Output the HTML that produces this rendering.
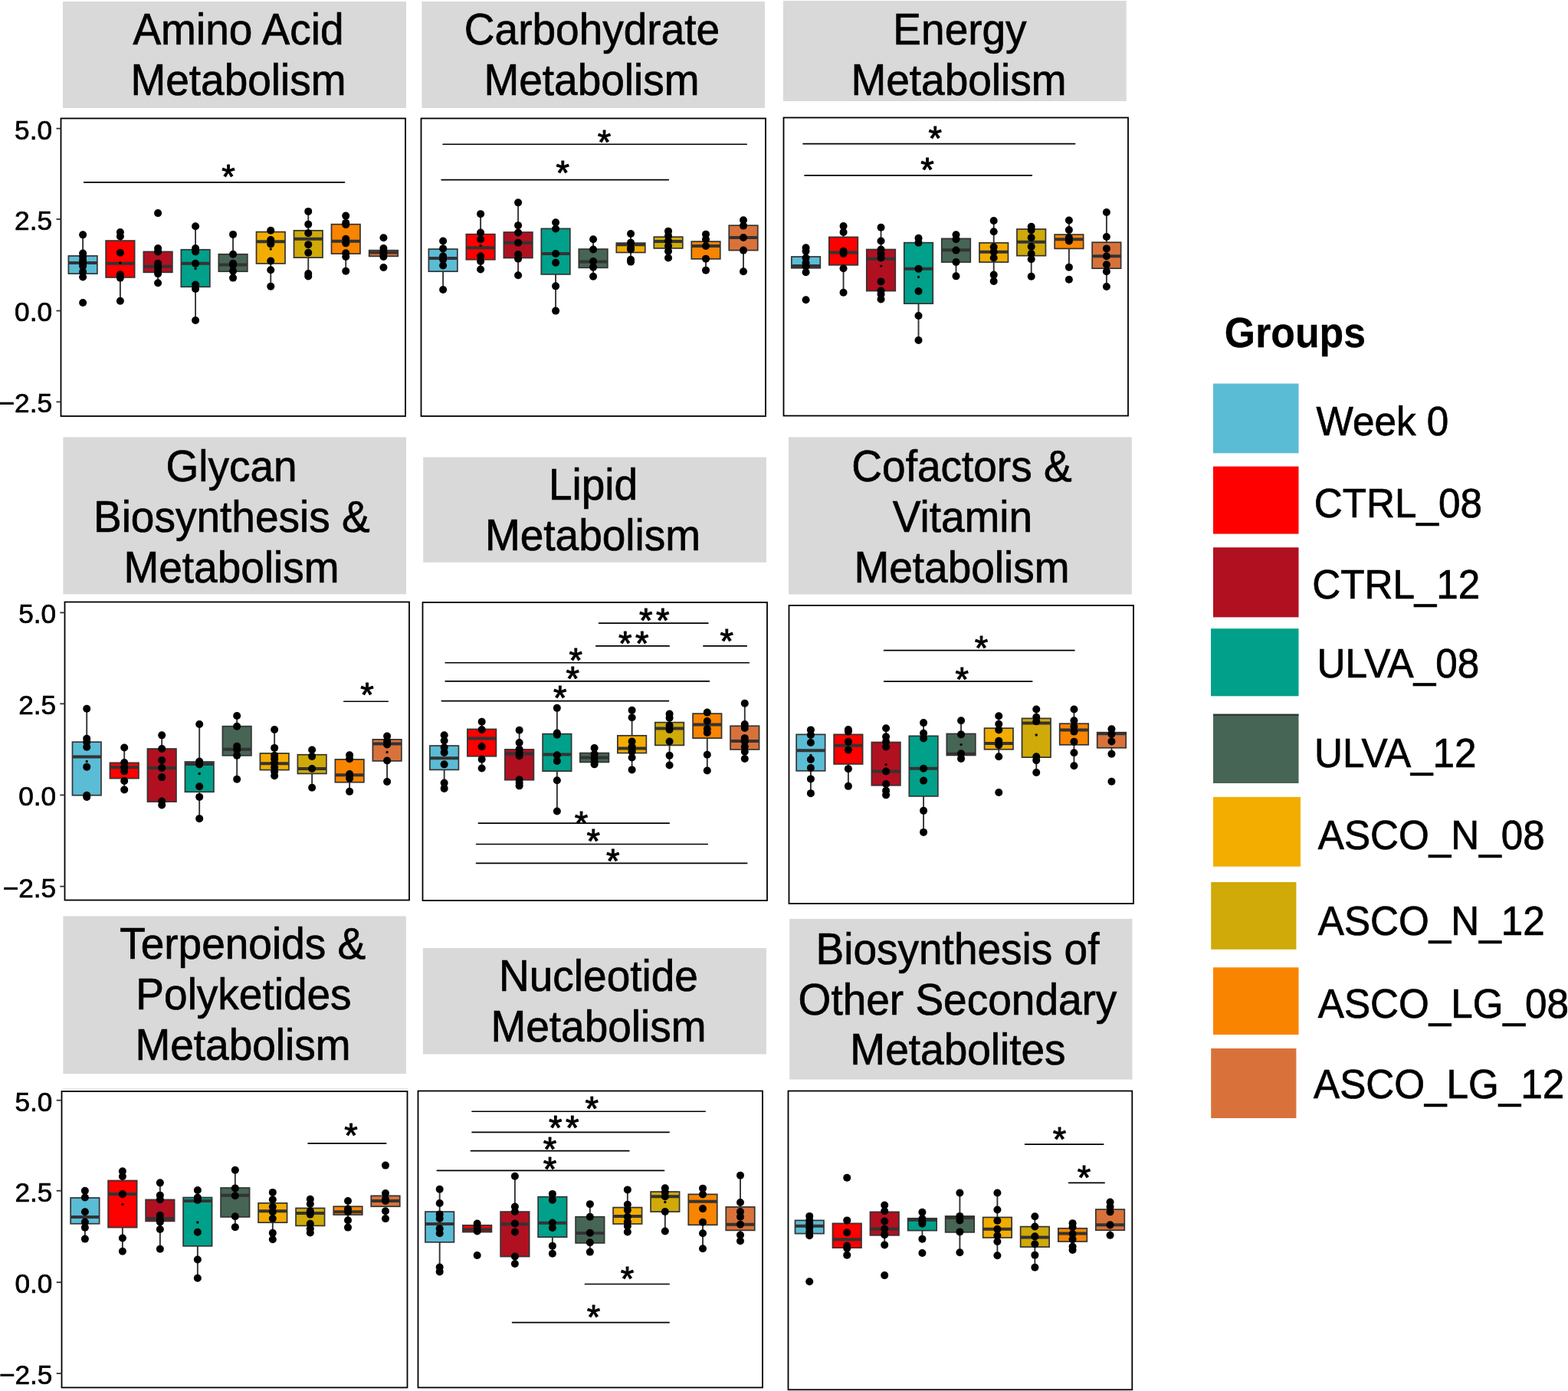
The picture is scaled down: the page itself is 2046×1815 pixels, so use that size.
<!DOCTYPE html>
<html><head><meta charset="utf-8"><title>Metabolic pathways boxplots</title>
<style>
html,body{margin:0;padding:0;background:#fff;}
body{width:2046px;height:1815px;overflow:hidden;}
svg{display:block;}
.t{font-family:'Liberation Sans', Arial, Helvetica, sans-serif;fill:#000;stroke:#000;stroke-width:0.7px;}
.tb{stroke-width:0.3px;}
.star{stroke-width:1.0px;stroke-linejoin:round;}
</style></head>
<body>
<svg width="2046" height="1815" viewBox="0 0 2046 1815">
<rect x="0" y="0" width="2046" height="1815" fill="#ffffff"/>
<rect x="82" y="2" width="448" height="139" fill="#D9D9D9"/>
<text x="311" y="0" transform="translate(0 58) scale(1 1.044)" text-anchor="middle" font-size="55.0" class="t">Amino Acid</text>
<text x="311" y="0" transform="translate(0 123.6) scale(1 1.044)" text-anchor="middle" font-size="55.0" class="t">Metabolism</text>
<line x1="109.67" y1="237.87" x2="449.49" y2="237.87" stroke="#000" stroke-width="1.7" stroke-linecap="round"/>
<text x="298.12" y="246.04" text-anchor="middle" font-size="45.0" class="t star">*</text>
<line x1="108.13" y1="306.34" x2="108.13" y2="333.92" stroke="#333" stroke-width="1.9"/>
<line x1="108.13" y1="357.09" x2="108.13" y2="361.5" stroke="#333" stroke-width="1.9"/>
<rect x="89.38" y="333.92" width="37.5" height="23.17" fill="#5BBCD6" stroke="#333" stroke-width="1.7"/>
<line x1="89.38" y1="342.97" x2="126.88" y2="342.97" stroke="#333" stroke-width="4"/>
<circle cx="108.13" cy="306.34" r="5.0"/>
<circle cx="108.13" cy="330.61" r="5.0"/>
<circle cx="108.13" cy="335.02" r="5.0"/>
<circle cx="108.13" cy="339.44" r="5.0"/>
<circle cx="108.13" cy="343.85" r="5.0"/>
<circle cx="108.13" cy="347.16" r="5.0"/>
<circle cx="108.13" cy="354.88" r="5.0"/>
<circle cx="108.13" cy="361.5" r="5.0"/>
<circle cx="108.13" cy="395.04" r="5.0"/>
<line x1="156.89" y1="303.03" x2="156.89" y2="314.06" stroke="#333" stroke-width="1.9"/>
<line x1="156.89" y1="361.94" x2="156.89" y2="392.83" stroke="#333" stroke-width="1.9"/>
<rect x="138.14" y="314.06" width="37.5" height="47.88" fill="#FF0000" stroke="#333" stroke-width="1.7"/>
<line x1="138.14" y1="343.85" x2="175.64" y2="343.85" stroke="#333" stroke-width="4"/>
<circle cx="156.89" cy="303.03" r="5.0"/>
<circle cx="156.89" cy="308.54" r="5.0"/>
<circle cx="156.89" cy="329.73" r="5.0"/>
<circle cx="156.89" cy="358.19" r="5.0"/>
<circle cx="156.89" cy="362.6" r="5.0"/>
<circle cx="156.89" cy="392.83" r="5.0"/>
<circle cx="156.89" cy="342.97" r="1.7"/>
<line x1="206.1" y1="324.43" x2="206.1" y2="328.4" stroke="#333" stroke-width="1.9"/>
<line x1="206.1" y1="355.32" x2="206.1" y2="369.22" stroke="#333" stroke-width="1.9"/>
<rect x="187.35" y="328.4" width="37.5" height="26.92" fill="#B11020" stroke="#333" stroke-width="1.7"/>
<line x1="187.35" y1="347.82" x2="224.85" y2="347.82" stroke="#333" stroke-width="4"/>
<circle cx="206.1" cy="278.09" r="5.0"/>
<circle cx="206.1" cy="323.99" r="5.0"/>
<circle cx="206.1" cy="328.4" r="5.0"/>
<circle cx="206.1" cy="343.85" r="5.0"/>
<circle cx="206.1" cy="348.26" r="5.0"/>
<circle cx="206.1" cy="352.67" r="5.0"/>
<circle cx="206.1" cy="357.09" r="5.0"/>
<circle cx="206.1" cy="369.22" r="5.0"/>
<line x1="255.08" y1="295.3" x2="255.08" y2="325.75" stroke="#333" stroke-width="1.9"/>
<line x1="255.08" y1="374.3" x2="255.08" y2="417.99" stroke="#333" stroke-width="1.9"/>
<rect x="236.33" y="325.75" width="37.5" height="48.54" fill="#00A08A" stroke="#333" stroke-width="1.7"/>
<line x1="236.33" y1="343.85" x2="273.83" y2="343.85" stroke="#333" stroke-width="4"/>
<circle cx="255.08" cy="295.3" r="5.0"/>
<circle cx="255.08" cy="323.99" r="5.0"/>
<circle cx="255.08" cy="328.4" r="5.0"/>
<circle cx="255.08" cy="343.85" r="5.0"/>
<circle cx="255.08" cy="371.43" r="5.0"/>
<circle cx="255.08" cy="376.95" r="5.0"/>
<circle cx="255.08" cy="417.99" r="5.0"/>
<circle cx="255.08" cy="350.47" r="1.7"/>
<line x1="304.07" y1="305.9" x2="304.07" y2="331.71" stroke="#333" stroke-width="1.9"/>
<line x1="304.07" y1="354.22" x2="304.07" y2="362.6" stroke="#333" stroke-width="1.9"/>
<rect x="285.32" y="331.71" width="37.5" height="22.51" fill="#466555" stroke="#333" stroke-width="1.7"/>
<line x1="285.32" y1="345.39" x2="322.82" y2="345.39" stroke="#333" stroke-width="4"/>
<circle cx="304.07" cy="305.9" r="5.0"/>
<circle cx="304.07" cy="331.71" r="5.0"/>
<circle cx="304.07" cy="343.85" r="5.0"/>
<circle cx="304.07" cy="346.05" r="5.0"/>
<circle cx="304.07" cy="353.78" r="5.0"/>
<circle cx="304.07" cy="362.6" r="5.0"/>
<line x1="353.27" y1="300.82" x2="353.27" y2="302.59" stroke="#333" stroke-width="1.9"/>
<line x1="353.27" y1="343.85" x2="353.27" y2="373.64" stroke="#333" stroke-width="1.9"/>
<rect x="334.52" y="302.59" width="37.5" height="41.26" fill="#F2AD00" stroke="#333" stroke-width="1.7"/>
<line x1="334.52" y1="315.16" x2="372.02" y2="315.16" stroke="#333" stroke-width="4"/>
<circle cx="353.27" cy="300.82" r="5.0"/>
<circle cx="353.27" cy="312.96" r="5.0"/>
<circle cx="353.27" cy="318.47" r="5.0"/>
<circle cx="353.27" cy="340.54" r="5.0"/>
<circle cx="353.27" cy="352.23" r="5.0"/>
<circle cx="353.27" cy="373.64" r="5.0"/>
<circle cx="353.27" cy="325.09" r="1.7"/>
<line x1="402.26" y1="275.89" x2="402.26" y2="300.82" stroke="#333" stroke-width="1.9"/>
<line x1="402.26" y1="336.13" x2="402.26" y2="360.4" stroke="#333" stroke-width="1.9"/>
<rect x="383.51" y="300.82" width="37.5" height="35.3" fill="#CFAA08" stroke="#333" stroke-width="1.7"/>
<line x1="383.51" y1="311.85" x2="421.01" y2="311.85" stroke="#333" stroke-width="4"/>
<circle cx="402.26" cy="275.89" r="5.0"/>
<circle cx="402.26" cy="292.66" r="5.0"/>
<circle cx="402.26" cy="304.13" r="5.0"/>
<circle cx="402.26" cy="319.14" r="5.0"/>
<circle cx="402.26" cy="329.73" r="5.0"/>
<circle cx="402.26" cy="357.09" r="5.0"/>
<circle cx="402.26" cy="360.4" r="5.0"/>
<line x1="451.24" y1="281.62" x2="451.24" y2="292.66" stroke="#333" stroke-width="1.9"/>
<line x1="451.24" y1="331.05" x2="451.24" y2="353.78" stroke="#333" stroke-width="1.9"/>
<rect x="432.49" y="292.66" width="37.5" height="38.39" fill="#F98400" stroke="#333" stroke-width="1.7"/>
<line x1="432.49" y1="314.72" x2="469.99" y2="314.72" stroke="#333" stroke-width="4"/>
<circle cx="451.24" cy="281.62" r="5.0"/>
<circle cx="451.24" cy="290.89" r="5.0"/>
<circle cx="451.24" cy="293.1" r="5.0"/>
<circle cx="451.24" cy="311.85" r="5.0"/>
<circle cx="451.24" cy="317.37" r="5.0"/>
<circle cx="451.24" cy="330.17" r="5.0"/>
<circle cx="451.24" cy="335.02" r="5.0"/>
<circle cx="451.24" cy="353.78" r="5.0"/>
<rect x="481.7" y="326.64" width="37.5" height="7.72" fill="#D8723A" stroke="#333" stroke-width="1.7"/>
<line x1="481.7" y1="329.51" x2="519.2" y2="329.51" stroke="#333" stroke-width="4"/>
<circle cx="500.45" cy="310.31" r="5.0"/>
<circle cx="500.45" cy="323.99" r="5.0"/>
<circle cx="500.45" cy="328.4" r="5.0"/>
<circle cx="500.45" cy="331.71" r="5.0"/>
<circle cx="500.45" cy="335.02" r="5.0"/>
<circle cx="500.45" cy="348.92" r="5.0"/>
<rect x="79.5" y="154.5" width="449.5" height="388.5" fill="none" stroke="#000" stroke-width="1.8"/>
<rect x="550.4" y="2" width="447.6" height="139" fill="#D9D9D9"/>
<text x="772.5" y="0" transform="translate(0 58) scale(1 1.044)" text-anchor="middle" font-size="55.0" class="t">Carbohydrate</text>
<text x="772" y="0" transform="translate(0 123.5) scale(1 1.044)" text-anchor="middle" font-size="55.0" class="t">Metabolism</text>
<line x1="578.13" y1="188.24" x2="974.2" y2="188.24" stroke="#000" stroke-width="1.7" stroke-linecap="round"/>
<text x="788.41" y="200.82" text-anchor="middle" font-size="45.0" class="t star">*</text>
<line x1="576.14" y1="234.58" x2="872.26" y2="234.58" stroke="#000" stroke-width="1.7" stroke-linecap="round"/>
<text x="734.35" y="241.2" text-anchor="middle" font-size="45.0" class="t star">*</text>
<line x1="578.13" y1="314.46" x2="578.13" y2="325.05" stroke="#333" stroke-width="1.9"/>
<line x1="578.13" y1="354.17" x2="578.13" y2="378.01" stroke="#333" stroke-width="1.9"/>
<rect x="559.38" y="325.05" width="37.5" height="29.13" fill="#5BBCD6" stroke="#333" stroke-width="1.7"/>
<line x1="559.38" y1="336.96" x2="596.88" y2="336.96" stroke="#333" stroke-width="4"/>
<circle cx="578.13" cy="314.46" r="5.0"/>
<circle cx="578.13" cy="324.39" r="5.0"/>
<circle cx="578.13" cy="334.32" r="5.0"/>
<circle cx="578.13" cy="338.73" r="5.0"/>
<circle cx="578.13" cy="346.45" r="5.0"/>
<circle cx="578.13" cy="378.01" r="5.0"/>
<line x1="627.11" y1="279.15" x2="627.11" y2="305.63" stroke="#333" stroke-width="1.9"/>
<line x1="627.11" y1="338.73" x2="627.11" y2="351.53" stroke="#333" stroke-width="1.9"/>
<rect x="608.36" y="305.63" width="37.5" height="33.1" fill="#FF0000" stroke="#333" stroke-width="1.7"/>
<line x1="608.36" y1="323.28" x2="645.86" y2="323.28" stroke="#333" stroke-width="4"/>
<circle cx="627.11" cy="279.15" r="5.0"/>
<circle cx="627.11" cy="303.42" r="5.0"/>
<circle cx="627.11" cy="312.25" r="5.0"/>
<circle cx="627.11" cy="334.32" r="5.0"/>
<circle cx="627.11" cy="340.94" r="5.0"/>
<circle cx="627.11" cy="351.53" r="5.0"/>
<circle cx="627.11" cy="320.41" r="1.7"/>
<line x1="676.1" y1="264.37" x2="676.1" y2="302.98" stroke="#333" stroke-width="1.9"/>
<line x1="676.1" y1="336.52" x2="676.1" y2="359.25" stroke="#333" stroke-width="1.9"/>
<rect x="657.35" y="302.98" width="37.5" height="33.54" fill="#B11020" stroke="#333" stroke-width="1.7"/>
<line x1="657.35" y1="316.66" x2="694.85" y2="316.66" stroke="#333" stroke-width="4"/>
<circle cx="676.1" cy="264.37" r="5.0"/>
<circle cx="676.1" cy="294.16" r="5.0"/>
<circle cx="676.1" cy="303.42" r="5.0"/>
<circle cx="676.1" cy="316.66" r="5.0"/>
<circle cx="676.1" cy="332.11" r="5.0"/>
<circle cx="676.1" cy="337.63" r="5.0"/>
<circle cx="676.1" cy="359.25" r="5.0"/>
<line x1="725.08" y1="290.19" x2="725.08" y2="298.35" stroke="#333" stroke-width="1.9"/>
<line x1="725.08" y1="357.93" x2="725.08" y2="405.59" stroke="#333" stroke-width="1.9"/>
<rect x="706.33" y="298.35" width="37.5" height="59.58" fill="#00A08A" stroke="#333" stroke-width="1.7"/>
<line x1="706.33" y1="331.01" x2="743.83" y2="331.01" stroke="#333" stroke-width="4"/>
<circle cx="725.08" cy="290.19" r="5.0"/>
<circle cx="725.08" cy="298.57" r="5.0"/>
<circle cx="725.08" cy="331.01" r="5.0"/>
<circle cx="725.08" cy="342.7" r="5.0"/>
<circle cx="725.08" cy="373.37" r="5.0"/>
<circle cx="725.08" cy="405.59" r="5.0"/>
<line x1="774.07" y1="312.25" x2="774.07" y2="325.05" stroke="#333" stroke-width="1.9"/>
<line x1="774.07" y1="349.32" x2="774.07" y2="360.79" stroke="#333" stroke-width="1.9"/>
<rect x="755.32" y="325.05" width="37.5" height="24.27" fill="#466555" stroke="#333" stroke-width="1.7"/>
<line x1="755.32" y1="341.38" x2="792.82" y2="341.38" stroke="#333" stroke-width="4"/>
<circle cx="774.07" cy="312.25" r="5.0"/>
<circle cx="774.07" cy="325.49" r="5.0"/>
<circle cx="774.07" cy="340.94" r="5.0"/>
<circle cx="774.07" cy="348.66" r="5.0"/>
<circle cx="774.07" cy="360.79" r="5.0"/>
<line x1="823.05" y1="304.97" x2="823.05" y2="317.11" stroke="#333" stroke-width="1.9"/>
<line x1="823.05" y1="329.46" x2="823.05" y2="341.6" stroke="#333" stroke-width="1.9"/>
<rect x="804.3" y="317.11" width="37.5" height="12.36" fill="#F2AD00" stroke="#333" stroke-width="1.7"/>
<line x1="804.3" y1="319.31" x2="841.8" y2="319.31" stroke="#333" stroke-width="4"/>
<circle cx="823.05" cy="304.97" r="5.0"/>
<circle cx="823.05" cy="316.66" r="5.0"/>
<circle cx="823.05" cy="323.28" r="5.0"/>
<circle cx="823.05" cy="325.49" r="5.0"/>
<circle cx="823.05" cy="338.73" r="5.0"/>
<circle cx="823.05" cy="341.6" r="5.0"/>
<line x1="872.04" y1="301.66" x2="872.04" y2="309.16" stroke="#333" stroke-width="1.9"/>
<line x1="872.04" y1="323.95" x2="872.04" y2="336.52" stroke="#333" stroke-width="1.9"/>
<rect x="853.29" y="309.16" width="37.5" height="14.78" fill="#CFAA08" stroke="#333" stroke-width="1.7"/>
<line x1="853.29" y1="315.12" x2="890.79" y2="315.12" stroke="#333" stroke-width="4"/>
<circle cx="872.04" cy="301.66" r="5.0"/>
<circle cx="872.04" cy="307.84" r="5.0"/>
<circle cx="872.04" cy="314.46" r="5.0"/>
<circle cx="872.04" cy="321.08" r="5.0"/>
<circle cx="872.04" cy="327.7" r="5.0"/>
<circle cx="872.04" cy="336.52" r="5.0"/>
<line x1="921.02" y1="305.63" x2="921.02" y2="315.12" stroke="#333" stroke-width="1.9"/>
<line x1="921.02" y1="337.85" x2="921.02" y2="352.63" stroke="#333" stroke-width="1.9"/>
<rect x="902.27" y="315.12" width="37.5" height="22.73" fill="#F98400" stroke="#333" stroke-width="1.7"/>
<line x1="902.27" y1="321.08" x2="939.77" y2="321.08" stroke="#333" stroke-width="4"/>
<circle cx="921.02" cy="305.63" r="5.0"/>
<circle cx="921.02" cy="312.25" r="5.0"/>
<circle cx="921.02" cy="321.08" r="5.0"/>
<circle cx="921.02" cy="337.63" r="5.0"/>
<circle cx="921.02" cy="352.63" r="5.0"/>
<line x1="970.01" y1="287.32" x2="970.01" y2="294.16" stroke="#333" stroke-width="1.9"/>
<line x1="970.01" y1="326.59" x2="970.01" y2="354.17" stroke="#333" stroke-width="1.9"/>
<rect x="951.26" y="294.16" width="37.5" height="32.44" fill="#D8723A" stroke="#333" stroke-width="1.7"/>
<line x1="951.26" y1="310.04" x2="988.76" y2="310.04" stroke="#333" stroke-width="4"/>
<circle cx="970.01" cy="287.32" r="5.0"/>
<circle cx="970.01" cy="294.6" r="5.0"/>
<circle cx="970.01" cy="310.04" r="5.0"/>
<circle cx="970.01" cy="326.59" r="5.0"/>
<circle cx="970.01" cy="354.17" r="5.0"/>
<rect x="549.5" y="154.5" width="449.5" height="388.5" fill="none" stroke="#000" stroke-width="1.8"/>
<rect x="1022" y="1" width="447.7" height="131" fill="#D9D9D9"/>
<text x="1252.5" y="0" transform="translate(0 58) scale(1 1.044)" text-anchor="middle" font-size="55.0" class="t">Energy</text>
<text x="1251" y="0" transform="translate(0 123.5) scale(1 1.044)" text-anchor="middle" font-size="55.0" class="t">Metabolism</text>
<line x1="1048.04" y1="187.58" x2="1402.63" y2="187.58" stroke="#000" stroke-width="1.7" stroke-linecap="round"/>
<text x="1220.15" y="195.74" text-anchor="middle" font-size="45.0" class="t star">*</text>
<line x1="1050.02" y1="228.84" x2="1346.36" y2="228.84" stroke="#000" stroke-width="1.7" stroke-linecap="round"/>
<text x="1210" y="236.78" text-anchor="middle" font-size="45.0" class="t star">*</text>
<line x1="1051.57" y1="323.28" x2="1051.57" y2="334.98" stroke="#333" stroke-width="1.9"/>
<line x1="1051.57" y1="349.76" x2="1051.57" y2="355.28" stroke="#333" stroke-width="1.9"/>
<rect x="1032.82" y="334.98" width="37.5" height="14.78" fill="#5BBCD6" stroke="#333" stroke-width="1.7"/>
<line x1="1032.82" y1="347.11" x2="1070.32" y2="347.11" stroke="#333" stroke-width="4"/>
<circle cx="1051.57" cy="323.28" r="5.0"/>
<circle cx="1051.57" cy="327.7" r="5.0"/>
<circle cx="1051.57" cy="336.52" r="5.0"/>
<circle cx="1051.57" cy="343.14" r="5.0"/>
<circle cx="1051.57" cy="347.56" r="5.0"/>
<circle cx="1051.57" cy="355.28" r="5.0"/>
<circle cx="1051.57" cy="391.24" r="5.0"/>
<line x1="1100.55" y1="295.04" x2="1100.55" y2="309.38" stroke="#333" stroke-width="1.9"/>
<line x1="1100.55" y1="345.79" x2="1100.55" y2="381.76" stroke="#333" stroke-width="1.9"/>
<rect x="1081.8" y="309.38" width="37.5" height="36.41" fill="#FF0000" stroke="#333" stroke-width="1.7"/>
<line x1="1081.8" y1="329.46" x2="1119.3" y2="329.46" stroke="#333" stroke-width="4"/>
<circle cx="1100.55" cy="295.04" r="5.0"/>
<circle cx="1100.55" cy="302.98" r="5.0"/>
<circle cx="1100.55" cy="327.7" r="5.0"/>
<circle cx="1100.55" cy="331.01" r="5.0"/>
<circle cx="1100.55" cy="350.2" r="5.0"/>
<circle cx="1100.55" cy="381.76" r="5.0"/>
<line x1="1149.54" y1="296.8" x2="1149.54" y2="325.49" stroke="#333" stroke-width="1.9"/>
<line x1="1149.54" y1="379.55" x2="1149.54" y2="390.58" stroke="#333" stroke-width="1.9"/>
<rect x="1130.79" y="325.49" width="37.5" height="54.06" fill="#B11020" stroke="#333" stroke-width="1.7"/>
<line x1="1130.79" y1="337.63" x2="1168.29" y2="337.63" stroke="#333" stroke-width="4"/>
<circle cx="1149.54" cy="296.8" r="5.0"/>
<circle cx="1149.54" cy="314.46" r="5.0"/>
<circle cx="1149.54" cy="325.49" r="5.0"/>
<circle cx="1149.54" cy="331.01" r="5.0"/>
<circle cx="1149.54" cy="336.52" r="5.0"/>
<circle cx="1149.54" cy="367.41" r="5.0"/>
<circle cx="1149.54" cy="379.55" r="5.0"/>
<circle cx="1149.54" cy="383.96" r="5.0"/>
<circle cx="1149.54" cy="390.58" r="5.0"/>
<circle cx="1149.54" cy="347.11" r="1.7"/>
<line x1="1198.52" y1="310.71" x2="1198.52" y2="316.66" stroke="#333" stroke-width="1.9"/>
<line x1="1198.52" y1="396.1" x2="1198.52" y2="443.98" stroke="#333" stroke-width="1.9"/>
<rect x="1179.77" y="316.66" width="37.5" height="79.44" fill="#00A08A" stroke="#333" stroke-width="1.7"/>
<line x1="1179.77" y1="350.86" x2="1217.27" y2="350.86" stroke="#333" stroke-width="4"/>
<circle cx="1198.52" cy="310.71" r="5.0"/>
<circle cx="1198.52" cy="316.66" r="5.0"/>
<circle cx="1198.52" cy="350.86" r="5.0"/>
<circle cx="1198.52" cy="379.99" r="5.0"/>
<circle cx="1198.52" cy="411.99" r="5.0"/>
<circle cx="1198.52" cy="443.98" r="5.0"/>
<circle cx="1198.52" cy="361.46" r="1.7"/>
<line x1="1247.51" y1="306.29" x2="1247.51" y2="311.37" stroke="#333" stroke-width="1.9"/>
<line x1="1247.51" y1="342.04" x2="1247.51" y2="360.35" stroke="#333" stroke-width="1.9"/>
<rect x="1228.76" y="311.37" width="37.5" height="30.67" fill="#466555" stroke="#333" stroke-width="1.7"/>
<line x1="1228.76" y1="326.15" x2="1266.26" y2="326.15" stroke="#333" stroke-width="4"/>
<circle cx="1247.51" cy="306.29" r="5.0"/>
<circle cx="1247.51" cy="312.25" r="5.0"/>
<circle cx="1247.51" cy="326.59" r="5.0"/>
<circle cx="1247.51" cy="342.04" r="5.0"/>
<circle cx="1247.51" cy="360.35" r="5.0"/>
<line x1="1296.71" y1="287.98" x2="1296.71" y2="316.88" stroke="#333" stroke-width="1.9"/>
<line x1="1296.71" y1="342.04" x2="1296.71" y2="366.97" stroke="#333" stroke-width="1.9"/>
<rect x="1277.96" y="316.88" width="37.5" height="25.15" fill="#F2AD00" stroke="#333" stroke-width="1.7"/>
<line x1="1277.96" y1="328.8" x2="1315.46" y2="328.8" stroke="#333" stroke-width="4"/>
<circle cx="1296.71" cy="287.98" r="5.0"/>
<circle cx="1296.71" cy="302.32" r="5.0"/>
<circle cx="1296.71" cy="322.18" r="5.0"/>
<circle cx="1296.71" cy="328.8" r="5.0"/>
<circle cx="1296.71" cy="336.52" r="5.0"/>
<circle cx="1296.71" cy="358.59" r="5.0"/>
<circle cx="1296.71" cy="366.97" r="5.0"/>
<line x1="1345.7" y1="295.7" x2="1345.7" y2="299.01" stroke="#333" stroke-width="1.9"/>
<line x1="1345.7" y1="333.65" x2="1345.7" y2="360.79" stroke="#333" stroke-width="1.9"/>
<rect x="1326.95" y="299.01" width="37.5" height="34.64" fill="#CFAA08" stroke="#333" stroke-width="1.7"/>
<line x1="1326.95" y1="315.78" x2="1364.45" y2="315.78" stroke="#333" stroke-width="4"/>
<circle cx="1345.7" cy="295.7" r="5.0"/>
<circle cx="1345.7" cy="300.11" r="5.0"/>
<circle cx="1345.7" cy="310.04" r="5.0"/>
<circle cx="1345.7" cy="321.74" r="5.0"/>
<circle cx="1345.7" cy="331.01" r="5.0"/>
<circle cx="1345.7" cy="338.29" r="5.0"/>
<circle cx="1345.7" cy="360.79" r="5.0"/>
<line x1="1394.9" y1="287.54" x2="1394.9" y2="306.07" stroke="#333" stroke-width="1.9"/>
<line x1="1394.9" y1="324.39" x2="1394.9" y2="348.66" stroke="#333" stroke-width="1.9"/>
<rect x="1376.15" y="306.07" width="37.5" height="18.31" fill="#F98400" stroke="#333" stroke-width="1.7"/>
<line x1="1376.15" y1="312.25" x2="1413.65" y2="312.25" stroke="#333" stroke-width="4"/>
<circle cx="1394.9" cy="287.54" r="5.0"/>
<circle cx="1394.9" cy="300.11" r="5.0"/>
<circle cx="1394.9" cy="310.04" r="5.0"/>
<circle cx="1394.9" cy="314.46" r="5.0"/>
<circle cx="1394.9" cy="348.66" r="5.0"/>
<circle cx="1394.9" cy="364.77" r="5.0"/>
<line x1="1443.89" y1="276.95" x2="1443.89" y2="316.22" stroke="#333" stroke-width="1.9"/>
<line x1="1443.89" y1="350.2" x2="1443.89" y2="374.03" stroke="#333" stroke-width="1.9"/>
<rect x="1425.14" y="316.22" width="37.5" height="33.98" fill="#D8723A" stroke="#333" stroke-width="1.7"/>
<line x1="1425.14" y1="334.32" x2="1462.64" y2="334.32" stroke="#333" stroke-width="4"/>
<circle cx="1443.89" cy="276.95" r="5.0"/>
<circle cx="1443.89" cy="308.94" r="5.0"/>
<circle cx="1443.89" cy="324.39" r="5.0"/>
<circle cx="1443.89" cy="334.32" r="5.0"/>
<circle cx="1443.89" cy="345.35" r="5.0"/>
<circle cx="1443.89" cy="354.17" r="5.0"/>
<circle cx="1443.89" cy="374.03" r="5.0"/>
<rect x="1022.5" y="153.5" width="449.5" height="389" fill="none" stroke="#000" stroke-width="1.8"/>
<rect x="82.4" y="570.4" width="447.6" height="205" fill="#D9D9D9"/>
<text x="302" y="0" transform="translate(0 627.8) scale(1 1.044)" text-anchor="middle" font-size="55.0" class="t">Glycan</text>
<text x="302.3" y="0" transform="translate(0 693.8) scale(1 1.044)" text-anchor="middle" font-size="55.0" class="t">Biosynthesis &amp;</text>
<text x="302" y="0" transform="translate(0 759.8) scale(1 1.044)" text-anchor="middle" font-size="55.0" class="t">Metabolism</text>
<line x1="448.84" y1="915.23" x2="506.21" y2="915.23" stroke="#000" stroke-width="1.7" stroke-linecap="round"/>
<text x="479.07" y="921.85" text-anchor="middle" font-size="45.0" class="t star">*</text>
<line x1="113.23" y1="924.72" x2="113.23" y2="968.19" stroke="#333" stroke-width="1.9"/>
<line x1="113.23" y1="1037.7" x2="113.23" y2="1038.8" stroke="#333" stroke-width="1.9"/>
<rect x="94.48" y="968.19" width="37.5" height="69.51" fill="#5BBCD6" stroke="#333" stroke-width="1.7"/>
<line x1="94.48" y1="987.61" x2="131.98" y2="987.61" stroke="#333" stroke-width="4"/>
<circle cx="113.23" cy="924.72" r="5.0"/>
<circle cx="113.23" cy="963.78" r="5.0"/>
<circle cx="113.23" cy="968.19" r="5.0"/>
<circle cx="113.23" cy="974.81" r="5.0"/>
<circle cx="113.23" cy="1000.63" r="5.0"/>
<circle cx="113.23" cy="1037.7" r="5.0"/>
<circle cx="113.23" cy="1039.9" r="5.0"/>
<circle cx="113.23" cy="993.57" r="1.7"/>
<line x1="162.21" y1="975.47" x2="162.21" y2="995.33" stroke="#333" stroke-width="1.9"/>
<line x1="162.21" y1="1015.63" x2="162.21" y2="1030.41" stroke="#333" stroke-width="1.9"/>
<rect x="143.46" y="995.33" width="37.5" height="20.3" fill="#FF0000" stroke="#333" stroke-width="1.7"/>
<line x1="143.46" y1="1001.29" x2="180.96" y2="1001.29" stroke="#333" stroke-width="4"/>
<circle cx="162.21" cy="975.47" r="5.0"/>
<circle cx="162.21" cy="995.11" r="5.0"/>
<circle cx="162.21" cy="1001.29" r="5.0"/>
<circle cx="162.21" cy="1006.36" r="5.0"/>
<circle cx="162.21" cy="1018.94" r="5.0"/>
<circle cx="162.21" cy="1030.41" r="5.0"/>
<line x1="211.2" y1="959.36" x2="211.2" y2="977.02" stroke="#333" stroke-width="1.9"/>
<line x1="211.2" y1="1046.08" x2="211.2" y2="1050.49" stroke="#333" stroke-width="1.9"/>
<rect x="192.45" y="977.02" width="37.5" height="69.06" fill="#B11020" stroke="#333" stroke-width="1.7"/>
<line x1="192.45" y1="1001.95" x2="229.95" y2="1001.95" stroke="#333" stroke-width="4"/>
<circle cx="211.2" cy="959.36" r="5.0"/>
<circle cx="211.2" cy="977.02" r="5.0"/>
<circle cx="211.2" cy="992.02" r="5.0"/>
<circle cx="211.2" cy="1001.95" r="5.0"/>
<circle cx="211.2" cy="1014.09" r="5.0"/>
<circle cx="211.2" cy="1045.42" r="5.0"/>
<circle cx="211.2" cy="1050.49" r="5.0"/>
<line x1="260.18" y1="945.02" x2="260.18" y2="994.01" stroke="#333" stroke-width="1.9"/>
<line x1="260.18" y1="1033.28" x2="260.18" y2="1068.15" stroke="#333" stroke-width="1.9"/>
<rect x="241.43" y="994.01" width="37.5" height="39.28" fill="#00A08A" stroke="#333" stroke-width="1.7"/>
<line x1="241.43" y1="996.88" x2="278.93" y2="996.88" stroke="#333" stroke-width="4"/>
<circle cx="260.18" cy="945.02" r="5.0"/>
<circle cx="260.18" cy="993.57" r="5.0"/>
<circle cx="260.18" cy="997.54" r="5.0"/>
<circle cx="260.18" cy="1026.22" r="5.0"/>
<circle cx="260.18" cy="1039.9" r="5.0"/>
<circle cx="260.18" cy="1068.15" r="5.0"/>
<circle cx="260.18" cy="1009.45" r="1.7"/>
<line x1="309.17" y1="933.99" x2="309.17" y2="947.67" stroke="#333" stroke-width="1.9"/>
<line x1="309.17" y1="985.84" x2="309.17" y2="1016.73" stroke="#333" stroke-width="1.9"/>
<rect x="290.42" y="947.67" width="37.5" height="38.17" fill="#466555" stroke="#333" stroke-width="1.7"/>
<line x1="290.42" y1="977.68" x2="327.92" y2="977.68" stroke="#333" stroke-width="4"/>
<circle cx="309.17" cy="933.99" r="5.0"/>
<circle cx="309.17" cy="947.67" r="5.0"/>
<circle cx="309.17" cy="973.71" r="5.0"/>
<circle cx="309.17" cy="978.12" r="5.0"/>
<circle cx="309.17" cy="985.84" r="5.0"/>
<circle cx="309.17" cy="1016.73" r="5.0"/>
<line x1="358.15" y1="952.08" x2="358.15" y2="982.97" stroke="#333" stroke-width="1.9"/>
<line x1="358.15" y1="1004.6" x2="358.15" y2="1012.32" stroke="#333" stroke-width="1.9"/>
<rect x="339.4" y="982.97" width="37.5" height="21.62" fill="#F2AD00" stroke="#333" stroke-width="1.7"/>
<line x1="339.4" y1="996.21" x2="376.9" y2="996.21" stroke="#333" stroke-width="4"/>
<circle cx="358.15" cy="952.08" r="5.0"/>
<circle cx="358.15" cy="975.91" r="5.0"/>
<circle cx="358.15" cy="985.84" r="5.0"/>
<circle cx="358.15" cy="990.26" r="5.0"/>
<circle cx="358.15" cy="995.77" r="5.0"/>
<circle cx="358.15" cy="1001.29" r="5.0"/>
<circle cx="358.15" cy="1006.8" r="5.0"/>
<circle cx="358.15" cy="1012.32" r="5.0"/>
<line x1="407.14" y1="978.56" x2="407.14" y2="984.74" stroke="#333" stroke-width="1.9"/>
<line x1="407.14" y1="1009.45" x2="407.14" y2="1027.77" stroke="#333" stroke-width="1.9"/>
<rect x="388.39" y="984.74" width="37.5" height="24.71" fill="#CFAA08" stroke="#333" stroke-width="1.7"/>
<line x1="388.39" y1="1003.05" x2="425.89" y2="1003.05" stroke="#333" stroke-width="4"/>
<circle cx="407.14" cy="978.56" r="5.0"/>
<circle cx="407.14" cy="986.95" r="5.0"/>
<circle cx="407.14" cy="1003.05" r="5.0"/>
<circle cx="407.14" cy="1027.77" r="5.0"/>
<line x1="456.12" y1="985.18" x2="456.12" y2="990.92" stroke="#333" stroke-width="1.9"/>
<line x1="456.12" y1="1020.71" x2="456.12" y2="1032.84" stroke="#333" stroke-width="1.9"/>
<rect x="437.37" y="990.92" width="37.5" height="29.79" fill="#F98400" stroke="#333" stroke-width="1.7"/>
<line x1="437.37" y1="1011.22" x2="474.87" y2="1011.22" stroke="#333" stroke-width="4"/>
<circle cx="456.12" cy="985.18" r="5.0"/>
<circle cx="456.12" cy="990.26" r="5.0"/>
<circle cx="456.12" cy="1010.11" r="5.0"/>
<circle cx="456.12" cy="1015.63" r="5.0"/>
<circle cx="456.12" cy="1032.84" r="5.0"/>
<line x1="505.11" y1="960.47" x2="505.11" y2="964.88" stroke="#333" stroke-width="1.9"/>
<line x1="505.11" y1="992.9" x2="505.11" y2="1020.04" stroke="#333" stroke-width="1.9"/>
<rect x="486.36" y="964.88" width="37.5" height="28.02" fill="#D8723A" stroke="#333" stroke-width="1.7"/>
<line x1="486.36" y1="970.4" x2="523.86" y2="970.4" stroke="#333" stroke-width="4"/>
<circle cx="505.11" cy="960.47" r="5.0"/>
<circle cx="505.11" cy="967.09" r="5.0"/>
<circle cx="505.11" cy="971.5" r="5.0"/>
<circle cx="505.11" cy="992.46" r="5.0"/>
<circle cx="505.11" cy="1020.04" r="5.0"/>
<circle cx="505.11" cy="981.43" r="1.7"/>
<rect x="84.5" y="785.5" width="449.5" height="389" fill="none" stroke="#000" stroke-width="1.8"/>
<rect x="552.2" y="596.5" width="447.7" height="137.3" fill="#D9D9D9"/>
<text x="774" y="0" transform="translate(0 652) scale(1 1.044)" text-anchor="middle" font-size="55.0" class="t">Lipid</text>
<text x="773.5" y="0" transform="translate(0 718) scale(1 1.044)" text-anchor="middle" font-size="55.0" class="t">Metabolism</text>
<line x1="781.58" y1="813.1" x2="923.9" y2="813.1" stroke="#000" stroke-width="1.7" stroke-linecap="round"/>
<text x="842.74" y="825.23" text-anchor="middle" font-size="45.0" class="t star">*</text>
<text x="864.74" y="825.23" text-anchor="middle" font-size="45.0" class="t star">*</text>
<line x1="777.83" y1="842.89" x2="873.15" y2="842.89" stroke="#000" stroke-width="1.7" stroke-linecap="round"/>
<text x="815.82" y="855.02" text-anchor="middle" font-size="45.0" class="t star">*</text>
<text x="837.82" y="855.02" text-anchor="middle" font-size="45.0" class="t star">*</text>
<line x1="917.95" y1="842.89" x2="974.21" y2="842.89" stroke="#000" stroke-width="1.7" stroke-linecap="round"/>
<text x="948.18" y="851.71" text-anchor="middle" font-size="45.0" class="t star">*</text>
<line x1="581.23" y1="864.73" x2="977.3" y2="864.73" stroke="#000" stroke-width="1.7" stroke-linecap="round"/>
<text x="751.35" y="876.64" text-anchor="middle" font-size="45.0" class="t star">*</text>
<line x1="581.23" y1="888.78" x2="925.45" y2="888.78" stroke="#000" stroke-width="1.7" stroke-linecap="round"/>
<text x="747.38" y="901.36" text-anchor="middle" font-size="45.0" class="t star">*</text>
<line x1="576.38" y1="914.6" x2="872.49" y2="914.6" stroke="#000" stroke-width="1.7" stroke-linecap="round"/>
<text x="730.83" y="926.07" text-anchor="middle" font-size="45.0" class="t star">*</text>
<line x1="624.48" y1="1074.13" x2="873.15" y2="1074.13" stroke="#000" stroke-width="1.7" stroke-linecap="round"/>
<text x="758.41" y="1090.01" text-anchor="middle" font-size="45.0" class="t star">*</text>
<line x1="621.61" y1="1101.49" x2="923.24" y2="1101.49" stroke="#000" stroke-width="1.7" stroke-linecap="round"/>
<text x="774.3" y="1112.74" text-anchor="middle" font-size="45.0" class="t star">*</text>
<line x1="621.61" y1="1126.43" x2="974.65" y2="1126.43" stroke="#000" stroke-width="1.7" stroke-linecap="round"/>
<text x="799.68" y="1138.56" text-anchor="middle" font-size="45.0" class="t star">*</text>
<line x1="579.68" y1="959.17" x2="579.68" y2="973.07" stroke="#333" stroke-width="1.9"/>
<line x1="579.68" y1="1004.4" x2="579.68" y2="1028.9" stroke="#333" stroke-width="1.9"/>
<rect x="560.93" y="973.07" width="37.5" height="31.33" fill="#5BBCD6" stroke="#333" stroke-width="1.7"/>
<line x1="560.93" y1="989.18" x2="598.43" y2="989.18" stroke="#333" stroke-width="4"/>
<circle cx="579.68" cy="959.17" r="5.0"/>
<circle cx="579.68" cy="966.45" r="5.0"/>
<circle cx="579.68" cy="975.28" r="5.0"/>
<circle cx="579.68" cy="981.9" r="5.0"/>
<circle cx="579.68" cy="997.34" r="5.0"/>
<circle cx="579.68" cy="1021.62" r="5.0"/>
<circle cx="579.68" cy="1028.9" r="5.0"/>
<line x1="628.67" y1="941.74" x2="628.67" y2="951.45" stroke="#333" stroke-width="1.9"/>
<line x1="628.67" y1="986.75" x2="628.67" y2="1002.42" stroke="#333" stroke-width="1.9"/>
<rect x="609.92" y="951.45" width="37.5" height="35.3" fill="#FF0000" stroke="#333" stroke-width="1.7"/>
<line x1="609.92" y1="963.58" x2="647.42" y2="963.58" stroke="#333" stroke-width="4"/>
<circle cx="628.67" cy="941.74" r="5.0"/>
<circle cx="628.67" cy="952.11" r="5.0"/>
<circle cx="628.67" cy="974.17" r="5.0"/>
<circle cx="628.67" cy="990.72" r="5.0"/>
<circle cx="628.67" cy="1002.42" r="5.0"/>
<circle cx="628.67" cy="970.2" r="1.7"/>
<line x1="677.65" y1="952.77" x2="677.65" y2="977.93" stroke="#333" stroke-width="1.9"/>
<line x1="677.65" y1="1017.64" x2="677.65" y2="1025.37" stroke="#333" stroke-width="1.9"/>
<rect x="658.9" y="977.93" width="37.5" height="39.72" fill="#B11020" stroke="#333" stroke-width="1.7"/>
<line x1="658.9" y1="983.44" x2="696.4" y2="983.44" stroke="#333" stroke-width="4"/>
<circle cx="677.65" cy="952.77" r="5.0"/>
<circle cx="677.65" cy="969.1" r="5.0"/>
<circle cx="677.65" cy="977.48" r="5.0"/>
<circle cx="677.65" cy="981.9" r="5.0"/>
<circle cx="677.65" cy="986.31" r="5.0"/>
<circle cx="677.65" cy="1017.2" r="5.0"/>
<circle cx="677.65" cy="1021.62" r="5.0"/>
<circle cx="677.65" cy="1025.37" r="5.0"/>
<line x1="726.86" y1="923.87" x2="726.86" y2="957.63" stroke="#333" stroke-width="1.9"/>
<line x1="726.86" y1="1006.17" x2="726.86" y2="1058.46" stroke="#333" stroke-width="1.9"/>
<rect x="708.11" y="957.63" width="37.5" height="48.54" fill="#00A08A" stroke="#333" stroke-width="1.7"/>
<line x1="708.11" y1="984.55" x2="745.61" y2="984.55" stroke="#333" stroke-width="4"/>
<circle cx="726.86" cy="923.87" r="5.0"/>
<circle cx="726.86" cy="956.52" r="5.0"/>
<circle cx="726.86" cy="958.73" r="5.0"/>
<circle cx="726.86" cy="985.21" r="5.0"/>
<circle cx="726.86" cy="992.93" r="5.0"/>
<circle cx="726.86" cy="1018.31" r="5.0"/>
<circle cx="726.86" cy="1058.46" r="5.0"/>
<line x1="775.62" y1="975.94" x2="775.62" y2="982.56" stroke="#333" stroke-width="1.9"/>
<line x1="775.62" y1="994.47" x2="775.62" y2="997.34" stroke="#333" stroke-width="1.9"/>
<rect x="756.87" y="982.56" width="37.5" height="11.92" fill="#466555" stroke="#333" stroke-width="1.7"/>
<line x1="756.87" y1="988.52" x2="794.37" y2="988.52" stroke="#333" stroke-width="4"/>
<circle cx="775.62" cy="975.94" r="5.0"/>
<circle cx="775.62" cy="984.1" r="5.0"/>
<circle cx="775.62" cy="989.62" r="5.0"/>
<circle cx="775.62" cy="994.03" r="5.0"/>
<circle cx="775.62" cy="997.34" r="5.0"/>
<line x1="824.61" y1="926.73" x2="824.61" y2="959.83" stroke="#333" stroke-width="1.9"/>
<line x1="824.61" y1="982.56" x2="824.61" y2="1004.4" stroke="#333" stroke-width="1.9"/>
<rect x="805.86" y="959.83" width="37.5" height="22.73" fill="#F2AD00" stroke="#333" stroke-width="1.7"/>
<line x1="805.86" y1="976.38" x2="843.36" y2="976.38" stroke="#333" stroke-width="4"/>
<circle cx="824.61" cy="926.73" r="5.0"/>
<circle cx="824.61" cy="936.22" r="5.0"/>
<circle cx="824.61" cy="967.56" r="5.0"/>
<circle cx="824.61" cy="974.17" r="5.0"/>
<circle cx="824.61" cy="978.59" r="5.0"/>
<circle cx="824.61" cy="980.79" r="5.0"/>
<circle cx="824.61" cy="988.52" r="5.0"/>
<circle cx="824.61" cy="1004.4" r="5.0"/>
<line x1="873.59" y1="931.59" x2="873.59" y2="942.62" stroke="#333" stroke-width="1.9"/>
<line x1="873.59" y1="972.41" x2="873.59" y2="998.45" stroke="#333" stroke-width="1.9"/>
<rect x="854.84" y="942.62" width="37.5" height="29.79" fill="#CFAA08" stroke="#333" stroke-width="1.7"/>
<line x1="854.84" y1="950.56" x2="892.34" y2="950.56" stroke="#333" stroke-width="4"/>
<circle cx="873.59" cy="931.59" r="5.0"/>
<circle cx="873.59" cy="936.66" r="5.0"/>
<circle cx="873.59" cy="946.59" r="5.0"/>
<circle cx="873.59" cy="952.11" r="5.0"/>
<circle cx="873.59" cy="967.56" r="5.0"/>
<circle cx="873.59" cy="985.87" r="5.0"/>
<circle cx="873.59" cy="998.45" r="5.0"/>
<line x1="922.8" y1="929.6" x2="922.8" y2="931.15" stroke="#333" stroke-width="1.9"/>
<line x1="922.8" y1="963.14" x2="922.8" y2="1005.51" stroke="#333" stroke-width="1.9"/>
<rect x="904.05" y="931.15" width="37.5" height="31.99" fill="#F98400" stroke="#333" stroke-width="1.7"/>
<line x1="904.05" y1="945.49" x2="941.55" y2="945.49" stroke="#333" stroke-width="4"/>
<circle cx="922.8" cy="929.6" r="5.0"/>
<circle cx="922.8" cy="941.08" r="5.0"/>
<circle cx="922.8" cy="951.01" r="5.0"/>
<circle cx="922.8" cy="956.08" r="5.0"/>
<circle cx="922.8" cy="984.77" r="5.0"/>
<circle cx="922.8" cy="1005.51" r="5.0"/>
<line x1="971.79" y1="917.69" x2="971.79" y2="947.26" stroke="#333" stroke-width="1.9"/>
<line x1="971.79" y1="977.93" x2="971.79" y2="990.06" stroke="#333" stroke-width="1.9"/>
<rect x="953.04" y="947.26" width="37.5" height="30.67" fill="#D8723A" stroke="#333" stroke-width="1.7"/>
<line x1="953.04" y1="967.11" x2="990.54" y2="967.11" stroke="#333" stroke-width="4"/>
<circle cx="971.79" cy="917.69" r="5.0"/>
<circle cx="971.79" cy="945.05" r="5.0"/>
<circle cx="971.79" cy="949.9" r="5.0"/>
<circle cx="971.79" cy="963.14" r="5.0"/>
<circle cx="971.79" cy="967.56" r="5.0"/>
<circle cx="971.79" cy="974.17" r="5.0"/>
<circle cx="971.79" cy="980.79" r="5.0"/>
<circle cx="971.79" cy="990.06" r="5.0"/>
<rect x="551.5" y="786" width="449.5" height="389" fill="none" stroke="#000" stroke-width="1.8"/>
<rect x="1029" y="570.4" width="447.8" height="205.1" fill="#D9D9D9"/>
<text x="1255" y="0" transform="translate(0 627.8) scale(1 1.044)" text-anchor="middle" font-size="55.0" class="t">Cofactors &amp;</text>
<text x="1256" y="0" transform="translate(0 693.8) scale(1 1.044)" text-anchor="middle" font-size="55.0" class="t">Vitamin</text>
<text x="1255" y="0" transform="translate(0 759.9) scale(1 1.044)" text-anchor="middle" font-size="55.0" class="t">Metabolism</text>
<line x1="1153.67" y1="848.68" x2="1401.9" y2="848.68" stroke="#000" stroke-width="1.7" stroke-linecap="round"/>
<text x="1280.54" y="860.82" text-anchor="middle" font-size="45.0" class="t star">*</text>
<line x1="1153.67" y1="889.06" x2="1346.74" y2="889.06" stroke="#000" stroke-width="1.7" stroke-linecap="round"/>
<text x="1255.17" y="901.64" text-anchor="middle" font-size="45.0" class="t star">*</text>
<line x1="1057.91" y1="952.39" x2="1057.91" y2="958.35" stroke="#333" stroke-width="1.9"/>
<line x1="1057.91" y1="1005.79" x2="1057.91" y2="1035.14" stroke="#333" stroke-width="1.9"/>
<rect x="1039.16" y="958.35" width="37.5" height="47.44" fill="#5BBCD6" stroke="#333" stroke-width="1.7"/>
<line x1="1039.16" y1="979.31" x2="1076.66" y2="979.31" stroke="#333" stroke-width="4"/>
<circle cx="1057.91" cy="952.39" r="5.0"/>
<circle cx="1057.91" cy="959.01" r="5.0"/>
<circle cx="1057.91" cy="968.94" r="5.0"/>
<circle cx="1057.91" cy="991.01" r="5.0"/>
<circle cx="1057.91" cy="1002.04" r="5.0"/>
<circle cx="1057.91" cy="1016.38" r="5.0"/>
<circle cx="1057.91" cy="1035.14" r="5.0"/>
<circle cx="1057.91" cy="985.49" r="1.7"/>
<line x1="1106.89" y1="951.95" x2="1106.89" y2="958.35" stroke="#333" stroke-width="1.9"/>
<line x1="1106.89" y1="996.96" x2="1106.89" y2="1025.87" stroke="#333" stroke-width="1.9"/>
<rect x="1088.14" y="958.35" width="37.5" height="38.61" fill="#FF0000" stroke="#333" stroke-width="1.7"/>
<line x1="1088.14" y1="972.69" x2="1125.64" y2="972.69" stroke="#333" stroke-width="4"/>
<circle cx="1106.89" cy="951.95" r="5.0"/>
<circle cx="1106.89" cy="954.6" r="5.0"/>
<circle cx="1106.89" cy="967.84" r="5.0"/>
<circle cx="1106.89" cy="978.43" r="5.0"/>
<circle cx="1106.89" cy="1003.14" r="5.0"/>
<circle cx="1106.89" cy="1025.87" r="5.0"/>
<line x1="1156.1" y1="950.19" x2="1156.1" y2="968.5" stroke="#333" stroke-width="1.9"/>
<line x1="1156.1" y1="1024.77" x2="1156.1" y2="1037.34" stroke="#333" stroke-width="1.9"/>
<rect x="1137.35" y="968.5" width="37.5" height="56.27" fill="#B11020" stroke="#333" stroke-width="1.7"/>
<line x1="1137.35" y1="1006.45" x2="1174.85" y2="1006.45" stroke="#333" stroke-width="4"/>
<circle cx="1156.1" cy="950.19" r="5.0"/>
<circle cx="1156.1" cy="961.22" r="5.0"/>
<circle cx="1156.1" cy="967.84" r="5.0"/>
<circle cx="1156.1" cy="974.46" r="5.0"/>
<circle cx="1156.1" cy="1006.45" r="5.0"/>
<circle cx="1156.1" cy="1023" r="5.0"/>
<circle cx="1156.1" cy="1031.83" r="5.0"/>
<circle cx="1156.1" cy="1037.34" r="5.0"/>
<circle cx="1156.1" cy="997.63" r="1.7"/>
<line x1="1205.08" y1="943.12" x2="1205.08" y2="960.34" stroke="#333" stroke-width="1.9"/>
<line x1="1205.08" y1="1038.89" x2="1205.08" y2="1085.89" stroke="#333" stroke-width="1.9"/>
<rect x="1186.33" y="960.34" width="37.5" height="78.55" fill="#00A08A" stroke="#333" stroke-width="1.7"/>
<line x1="1186.33" y1="1002.7" x2="1223.83" y2="1002.7" stroke="#333" stroke-width="4"/>
<circle cx="1205.08" cy="943.12" r="5.0"/>
<circle cx="1205.08" cy="956.8" r="5.0"/>
<circle cx="1205.08" cy="963.42" r="5.0"/>
<circle cx="1205.08" cy="1002.7" r="5.0"/>
<circle cx="1205.08" cy="1018.59" r="5.0"/>
<circle cx="1205.08" cy="1057.86" r="5.0"/>
<circle cx="1205.08" cy="1085.89" r="5.0"/>
<line x1="1254.07" y1="940.26" x2="1254.07" y2="957.47" stroke="#333" stroke-width="1.9"/>
<line x1="1254.07" y1="985.49" x2="1254.07" y2="989.9" stroke="#333" stroke-width="1.9"/>
<rect x="1235.32" y="957.47" width="37.5" height="28.02" fill="#466555" stroke="#333" stroke-width="1.7"/>
<line x1="1235.32" y1="983.72" x2="1272.82" y2="983.72" stroke="#333" stroke-width="4"/>
<circle cx="1254.07" cy="940.26" r="5.0"/>
<circle cx="1254.07" cy="958.35" r="5.0"/>
<circle cx="1254.07" cy="983.28" r="5.0"/>
<circle cx="1254.07" cy="989.9" r="5.0"/>
<circle cx="1254.07" cy="971.59" r="1.7"/>
<line x1="1303.27" y1="934.3" x2="1303.27" y2="950.19" stroke="#333" stroke-width="1.9"/>
<line x1="1303.27" y1="977.77" x2="1303.27" y2="987.26" stroke="#333" stroke-width="1.9"/>
<rect x="1284.52" y="950.19" width="37.5" height="27.58" fill="#F2AD00" stroke="#333" stroke-width="1.7"/>
<line x1="1284.52" y1="970.04" x2="1322.02" y2="970.04" stroke="#333" stroke-width="4"/>
<circle cx="1303.27" cy="934.3" r="5.0"/>
<circle cx="1303.27" cy="944.67" r="5.0"/>
<circle cx="1303.27" cy="952.39" r="5.0"/>
<circle cx="1303.27" cy="966.73" r="5.0"/>
<circle cx="1303.27" cy="972.25" r="5.0"/>
<circle cx="1303.27" cy="987.26" r="5.0"/>
<circle cx="1303.27" cy="1034.03" r="5.0"/>
<line x1="1352.26" y1="925.47" x2="1352.26" y2="937.39" stroke="#333" stroke-width="1.9"/>
<line x1="1352.26" y1="988.14" x2="1352.26" y2="1008" stroke="#333" stroke-width="1.9"/>
<rect x="1333.51" y="937.39" width="37.5" height="50.75" fill="#CFAA08" stroke="#333" stroke-width="1.7"/>
<line x1="1333.51" y1="943.57" x2="1371.01" y2="943.57" stroke="#333" stroke-width="4"/>
<circle cx="1352.26" cy="925.47" r="5.0"/>
<circle cx="1352.26" cy="935.84" r="5.0"/>
<circle cx="1352.26" cy="941.36" r="5.0"/>
<circle cx="1352.26" cy="987.26" r="5.0"/>
<circle cx="1352.26" cy="992.11" r="5.0"/>
<circle cx="1352.26" cy="1008" r="5.0"/>
<circle cx="1352.26" cy="959.01" r="1.7"/>
<line x1="1401.46" y1="925.47" x2="1401.46" y2="944.23" stroke="#333" stroke-width="1.9"/>
<line x1="1401.46" y1="971.81" x2="1401.46" y2="999.17" stroke="#333" stroke-width="1.9"/>
<rect x="1382.71" y="944.23" width="37.5" height="27.58" fill="#F98400" stroke="#333" stroke-width="1.7"/>
<line x1="1382.71" y1="952.39" x2="1420.21" y2="952.39" stroke="#333" stroke-width="4"/>
<circle cx="1401.46" cy="925.47" r="5.0"/>
<circle cx="1401.46" cy="940.26" r="5.0"/>
<circle cx="1401.46" cy="947.98" r="5.0"/>
<circle cx="1401.46" cy="954.6" r="5.0"/>
<circle cx="1401.46" cy="967.84" r="5.0"/>
<circle cx="1401.46" cy="982.18" r="5.0"/>
<circle cx="1401.46" cy="999.17" r="5.0"/>
<line x1="1450.45" y1="951.29" x2="1450.45" y2="955.7" stroke="#333" stroke-width="1.9"/>
<line x1="1450.45" y1="975.78" x2="1450.45" y2="983.72" stroke="#333" stroke-width="1.9"/>
<rect x="1431.7" y="955.7" width="37.5" height="20.08" fill="#D8723A" stroke="#333" stroke-width="1.7"/>
<line x1="1431.7" y1="957.25" x2="1469.2" y2="957.25" stroke="#333" stroke-width="4"/>
<circle cx="1450.45" cy="951.29" r="5.0"/>
<circle cx="1450.45" cy="957.91" r="5.0"/>
<circle cx="1450.45" cy="967.4" r="5.0"/>
<circle cx="1450.45" cy="983.72" r="5.0"/>
<circle cx="1450.45" cy="1019.69" r="5.0"/>
<rect x="1029.5" y="790" width="449.5" height="389" fill="none" stroke="#000" stroke-width="1.8"/>
<rect x="82.4" y="1195.4" width="447.5" height="205.7" fill="#D9D9D9"/>
<text x="316.7" y="0" transform="translate(0 1251) scale(1 1.044)" text-anchor="middle" font-size="55.0" class="t">Terpenoids &amp;</text>
<text x="318" y="0" transform="translate(0 1317) scale(1 1.044)" text-anchor="middle" font-size="55.0" class="t">Polyketides</text>
<text x="317" y="0" transform="translate(0 1383) scale(1 1.044)" text-anchor="middle" font-size="55.0" class="t">Metabolism</text>
<line x1="402.15" y1="1491.92" x2="503.65" y2="1491.92" stroke="#000" stroke-width="1.7" stroke-linecap="round"/>
<text x="457.98" y="1497.44" text-anchor="middle" font-size="45.0" class="t star">*</text>
<line x1="110.89" y1="1553.71" x2="110.89" y2="1562.97" stroke="#333" stroke-width="1.9"/>
<line x1="110.89" y1="1596.73" x2="110.89" y2="1616.59" stroke="#333" stroke-width="1.9"/>
<rect x="92.14" y="1562.97" width="37.5" height="33.76" fill="#5BBCD6" stroke="#333" stroke-width="1.7"/>
<line x1="92.14" y1="1587.91" x2="129.64" y2="1587.91" stroke="#333" stroke-width="4"/>
<circle cx="110.89" cy="1553.71" r="5.0"/>
<circle cx="110.89" cy="1562.53" r="5.0"/>
<circle cx="110.89" cy="1581.29" r="5.0"/>
<circle cx="110.89" cy="1594.53" r="5.0"/>
<circle cx="110.89" cy="1601.81" r="5.0"/>
<circle cx="110.89" cy="1616.59" r="5.0"/>
<line x1="159.88" y1="1528.33" x2="159.88" y2="1540.47" stroke="#333" stroke-width="1.9"/>
<line x1="159.88" y1="1601.59" x2="159.88" y2="1632.7" stroke="#333" stroke-width="1.9"/>
<rect x="141.13" y="1540.47" width="37.5" height="61.12" fill="#FF0000" stroke="#333" stroke-width="1.7"/>
<line x1="141.13" y1="1558.12" x2="178.63" y2="1558.12" stroke="#333" stroke-width="4"/>
<circle cx="159.88" cy="1528.33" r="5.0"/>
<circle cx="159.88" cy="1534.95" r="5.0"/>
<circle cx="159.88" cy="1558.12" r="5.0"/>
<circle cx="159.88" cy="1615.49" r="5.0"/>
<circle cx="159.88" cy="1632.7" r="5.0"/>
<circle cx="159.88" cy="1571.36" r="1.7"/>
<line x1="208.86" y1="1543.34" x2="208.86" y2="1565.4" stroke="#333" stroke-width="1.9"/>
<line x1="208.86" y1="1593.42" x2="208.86" y2="1629.83" stroke="#333" stroke-width="1.9"/>
<rect x="190.11" y="1565.4" width="37.5" height="28.02" fill="#B11020" stroke="#333" stroke-width="1.7"/>
<line x1="190.11" y1="1590.11" x2="227.61" y2="1590.11" stroke="#333" stroke-width="4"/>
<circle cx="208.86" cy="1543.34" r="5.0"/>
<circle cx="208.86" cy="1559.66" r="5.0"/>
<circle cx="208.86" cy="1565.18" r="5.0"/>
<circle cx="208.86" cy="1585.7" r="5.0"/>
<circle cx="208.86" cy="1591.22" r="5.0"/>
<circle cx="208.86" cy="1594.53" r="5.0"/>
<circle cx="208.86" cy="1604.02" r="5.0"/>
<circle cx="208.86" cy="1629.83" r="5.0"/>
<line x1="257.85" y1="1553.05" x2="257.85" y2="1562.53" stroke="#333" stroke-width="1.9"/>
<line x1="257.85" y1="1625.86" x2="257.85" y2="1667.78" stroke="#333" stroke-width="1.9"/>
<rect x="239.1" y="1562.53" width="37.5" height="63.33" fill="#00A08A" stroke="#333" stroke-width="1.7"/>
<line x1="239.1" y1="1566.95" x2="276.6" y2="1566.95" stroke="#333" stroke-width="4"/>
<circle cx="257.85" cy="1553.05" r="5.0"/>
<circle cx="257.85" cy="1562.53" r="5.0"/>
<circle cx="257.85" cy="1565.84" r="5.0"/>
<circle cx="257.85" cy="1607.77" r="5.0"/>
<circle cx="257.85" cy="1643.51" r="5.0"/>
<circle cx="257.85" cy="1667.78" r="5.0"/>
<circle cx="257.85" cy="1594.97" r="1.7"/>
<line x1="306.83" y1="1526.79" x2="306.83" y2="1549.96" stroke="#333" stroke-width="1.9"/>
<line x1="306.83" y1="1587.91" x2="306.83" y2="1601.15" stroke="#333" stroke-width="1.9"/>
<rect x="288.08" y="1549.96" width="37.5" height="37.95" fill="#466555" stroke="#333" stroke-width="1.7"/>
<line x1="288.08" y1="1559.66" x2="325.58" y2="1559.66" stroke="#333" stroke-width="4"/>
<circle cx="306.83" cy="1526.79" r="5.0"/>
<circle cx="306.83" cy="1550.4" r="5.0"/>
<circle cx="306.83" cy="1560.33" r="5.0"/>
<circle cx="306.83" cy="1587.25" r="5.0"/>
<circle cx="306.83" cy="1601.15" r="5.0"/>
<line x1="355.82" y1="1555.91" x2="355.82" y2="1569.81" stroke="#333" stroke-width="1.9"/>
<line x1="355.82" y1="1595.19" x2="355.82" y2="1617.26" stroke="#333" stroke-width="1.9"/>
<rect x="337.07" y="1569.81" width="37.5" height="25.38" fill="#F2AD00" stroke="#333" stroke-width="1.7"/>
<line x1="337.07" y1="1580.19" x2="374.57" y2="1580.19" stroke="#333" stroke-width="4"/>
<circle cx="355.82" cy="1555.91" r="5.0"/>
<circle cx="355.82" cy="1565.18" r="5.0"/>
<circle cx="355.82" cy="1574.67" r="5.0"/>
<circle cx="355.82" cy="1581.29" r="5.0"/>
<circle cx="355.82" cy="1590.11" r="5.0"/>
<circle cx="355.82" cy="1608.87" r="5.0"/>
<circle cx="355.82" cy="1617.26" r="5.0"/>
<line x1="404.8" y1="1564.74" x2="404.8" y2="1576.43" stroke="#333" stroke-width="1.9"/>
<line x1="404.8" y1="1599.38" x2="404.8" y2="1608.43" stroke="#333" stroke-width="1.9"/>
<rect x="386.05" y="1576.43" width="37.5" height="22.95" fill="#CFAA08" stroke="#333" stroke-width="1.7"/>
<line x1="386.05" y1="1583.05" x2="423.55" y2="1583.05" stroke="#333" stroke-width="4"/>
<circle cx="404.8" cy="1564.74" r="5.0"/>
<circle cx="404.8" cy="1570.92" r="5.0"/>
<circle cx="404.8" cy="1580.19" r="5.0"/>
<circle cx="404.8" cy="1584.6" r="5.0"/>
<circle cx="404.8" cy="1596.73" r="5.0"/>
<circle cx="404.8" cy="1603.35" r="5.0"/>
<circle cx="404.8" cy="1608.43" r="5.0"/>
<line x1="454.01" y1="1566.95" x2="454.01" y2="1574.23" stroke="#333" stroke-width="1.9"/>
<line x1="454.01" y1="1585.04" x2="454.01" y2="1601.59" stroke="#333" stroke-width="1.9"/>
<rect x="435.26" y="1574.23" width="37.5" height="10.81" fill="#F98400" stroke="#333" stroke-width="1.7"/>
<line x1="435.26" y1="1581.29" x2="472.76" y2="1581.29" stroke="#333" stroke-width="4"/>
<circle cx="454.01" cy="1566.95" r="5.0"/>
<circle cx="454.01" cy="1577.54" r="5.0"/>
<circle cx="454.01" cy="1581.29" r="5.0"/>
<circle cx="454.01" cy="1592.32" r="5.0"/>
<circle cx="454.01" cy="1601.59" r="5.0"/>
<rect x="484.24" y="1560.33" width="37.5" height="13.9" fill="#D8723A" stroke="#333" stroke-width="1.7"/>
<line x1="484.24" y1="1566.95" x2="521.74" y2="1566.95" stroke="#333" stroke-width="4"/>
<circle cx="502.99" cy="1520.61" r="5.0"/>
<circle cx="502.99" cy="1557.02" r="5.0"/>
<circle cx="502.99" cy="1564.74" r="5.0"/>
<circle cx="502.99" cy="1566.95" r="5.0"/>
<circle cx="502.99" cy="1580.19" r="5.0"/>
<circle cx="502.99" cy="1590.11" r="5.0"/>
<rect x="80.5" y="1424" width="451" height="386.5" fill="none" stroke="#000" stroke-width="1.8"/>
<rect x="551.9" y="1237.1" width="448" height="138.4" fill="#D9D9D9"/>
<text x="781" y="0" transform="translate(0 1293.4) scale(1 1.044)" text-anchor="middle" font-size="55.0" class="t">Nucleotide</text>
<text x="781" y="0" transform="translate(0 1358.8) scale(1 1.044)" text-anchor="middle" font-size="55.0" class="t">Metabolism</text>
<line x1="616.05" y1="1450.23" x2="920.11" y2="1450.23" stroke="#000" stroke-width="1.7" stroke-linecap="round"/>
<text x="772.27" y="1461.92" text-anchor="middle" font-size="45.0" class="t star">*</text>
<line x1="616.05" y1="1477.37" x2="873.11" y2="1477.37" stroke="#000" stroke-width="1.7" stroke-linecap="round"/>
<text x="724.86" y="1487.3" text-anchor="middle" font-size="45.0" class="t star">*</text>
<text x="746.86" y="1487.3" text-anchor="middle" font-size="45.0" class="t star">*</text>
<line x1="614.51" y1="1501.64" x2="820.82" y2="1501.64" stroke="#000" stroke-width="1.7" stroke-linecap="round"/>
<text x="717.55" y="1514.88" text-anchor="middle" font-size="45.0" class="t star">*</text>
<line x1="570.38" y1="1527.46" x2="866.49" y2="1527.46" stroke="#000" stroke-width="1.7" stroke-linecap="round"/>
<text x="717.55" y="1540.92" text-anchor="middle" font-size="45.0" class="t star">*</text>
<line x1="763.45" y1="1675.52" x2="873.11" y2="1675.52" stroke="#000" stroke-width="1.7" stroke-linecap="round"/>
<text x="818.61" y="1683.68" text-anchor="middle" font-size="45.0" class="t star">*</text>
<line x1="668.57" y1="1725.6" x2="873.11" y2="1725.6" stroke="#000" stroke-width="1.7" stroke-linecap="round"/>
<text x="774.48" y="1733.77" text-anchor="middle" font-size="45.0" class="t star">*</text>
<line x1="573.68" y1="1551.73" x2="573.68" y2="1581.08" stroke="#333" stroke-width="1.9"/>
<line x1="573.68" y1="1620.79" x2="573.68" y2="1659.41" stroke="#333" stroke-width="1.9"/>
<rect x="554.93" y="1581.08" width="37.5" height="39.72" fill="#5BBCD6" stroke="#333" stroke-width="1.7"/>
<line x1="554.93" y1="1596.96" x2="592.43" y2="1596.96" stroke="#333" stroke-width="4"/>
<circle cx="573.68" cy="1551.73" r="5.0"/>
<circle cx="573.68" cy="1570.04" r="5.0"/>
<circle cx="573.68" cy="1584.39" r="5.0"/>
<circle cx="573.68" cy="1589.9" r="5.0"/>
<circle cx="573.68" cy="1603.14" r="5.0"/>
<circle cx="573.68" cy="1609.32" r="5.0"/>
<circle cx="573.68" cy="1653.45" r="5.0"/>
<circle cx="573.68" cy="1659.41" r="5.0"/>
<line x1="622.67" y1="1596.52" x2="622.67" y2="1598.73" stroke="#333" stroke-width="1.9"/>
<line x1="622.67" y1="1607.56" x2="622.67" y2="1607.56" stroke="#333" stroke-width="1.9"/>
<rect x="603.92" y="1598.73" width="37.5" height="8.83" fill="#FF0000" stroke="#333" stroke-width="1.7"/>
<line x1="603.92" y1="1604.25" x2="641.42" y2="1604.25" stroke="#333" stroke-width="4"/>
<circle cx="622.67" cy="1596.52" r="5.0"/>
<circle cx="622.67" cy="1600.94" r="5.0"/>
<circle cx="622.67" cy="1606.45" r="5.0"/>
<circle cx="622.67" cy="1638.01" r="5.0"/>
<line x1="671.88" y1="1534.74" x2="671.88" y2="1581.08" stroke="#333" stroke-width="1.9"/>
<line x1="671.88" y1="1639.55" x2="671.88" y2="1649.04" stroke="#333" stroke-width="1.9"/>
<rect x="653.13" y="1581.08" width="37.5" height="58.47" fill="#B11020" stroke="#333" stroke-width="1.7"/>
<line x1="653.13" y1="1597.18" x2="690.63" y2="1597.18" stroke="#333" stroke-width="4"/>
<circle cx="671.88" cy="1534.74" r="5.0"/>
<circle cx="671.88" cy="1574.46" r="5.0"/>
<circle cx="671.88" cy="1581.08" r="5.0"/>
<circle cx="671.88" cy="1596.52" r="5.0"/>
<circle cx="671.88" cy="1607.56" r="5.0"/>
<circle cx="671.88" cy="1639.55" r="5.0"/>
<circle cx="671.88" cy="1649.04" r="5.0"/>
<line x1="720.86" y1="1557.91" x2="720.86" y2="1561.66" stroke="#333" stroke-width="1.9"/>
<line x1="720.86" y1="1614.17" x2="720.86" y2="1635.8" stroke="#333" stroke-width="1.9"/>
<rect x="702.11" y="1561.66" width="37.5" height="52.52" fill="#00A08A" stroke="#333" stroke-width="1.7"/>
<line x1="702.11" y1="1595.86" x2="739.61" y2="1595.86" stroke="#333" stroke-width="4"/>
<circle cx="720.86" cy="1557.91" r="5.0"/>
<circle cx="720.86" cy="1565.63" r="5.0"/>
<circle cx="720.86" cy="1595.42" r="5.0"/>
<circle cx="720.86" cy="1602.04" r="5.0"/>
<circle cx="720.86" cy="1625.65" r="5.0"/>
<circle cx="720.86" cy="1635.8" r="5.0"/>
<line x1="769.85" y1="1571.15" x2="769.85" y2="1587.7" stroke="#333" stroke-width="1.9"/>
<line x1="769.85" y1="1621.9" x2="769.85" y2="1633.59" stroke="#333" stroke-width="1.9"/>
<rect x="751.1" y="1587.7" width="37.5" height="34.2" fill="#466555" stroke="#333" stroke-width="1.7"/>
<line x1="751.1" y1="1609.1" x2="788.6" y2="1609.1" stroke="#333" stroke-width="4"/>
<circle cx="769.85" cy="1571.15" r="5.0"/>
<circle cx="769.85" cy="1587.7" r="5.0"/>
<circle cx="769.85" cy="1608.66" r="5.0"/>
<circle cx="769.85" cy="1621.24" r="5.0"/>
<circle cx="769.85" cy="1633.59" r="5.0"/>
<line x1="818.83" y1="1552.39" x2="818.83" y2="1575.56" stroke="#333" stroke-width="1.9"/>
<line x1="818.83" y1="1596.96" x2="818.83" y2="1607.56" stroke="#333" stroke-width="1.9"/>
<rect x="800.08" y="1575.56" width="37.5" height="21.4" fill="#F2AD00" stroke="#333" stroke-width="1.7"/>
<line x1="800.08" y1="1587.03" x2="837.58" y2="1587.03" stroke="#333" stroke-width="4"/>
<circle cx="818.83" cy="1552.39" r="5.0"/>
<circle cx="818.83" cy="1571.81" r="5.0"/>
<circle cx="818.83" cy="1578.87" r="5.0"/>
<circle cx="818.83" cy="1587.7" r="5.0"/>
<circle cx="818.83" cy="1594.32" r="5.0"/>
<circle cx="818.83" cy="1599.83" r="5.0"/>
<circle cx="818.83" cy="1607.56" r="5.0"/>
<line x1="867.82" y1="1550.19" x2="867.82" y2="1555.04" stroke="#333" stroke-width="1.9"/>
<line x1="867.82" y1="1581.08" x2="867.82" y2="1606.45" stroke="#333" stroke-width="1.9"/>
<rect x="849.07" y="1555.04" width="37.5" height="26.04" fill="#CFAA08" stroke="#333" stroke-width="1.7"/>
<line x1="849.07" y1="1561.22" x2="886.57" y2="1561.22" stroke="#333" stroke-width="4"/>
<circle cx="867.82" cy="1550.19" r="5.0"/>
<circle cx="867.82" cy="1555.7" r="5.0"/>
<circle cx="867.82" cy="1561.22" r="5.0"/>
<circle cx="867.82" cy="1581.08" r="5.0"/>
<circle cx="867.82" cy="1606.45" r="5.0"/>
<circle cx="867.82" cy="1568.5" r="1.7"/>
<line x1="917.02" y1="1550.63" x2="917.02" y2="1558.35" stroke="#333" stroke-width="1.9"/>
<line x1="917.02" y1="1598.29" x2="917.02" y2="1629.18" stroke="#333" stroke-width="1.9"/>
<rect x="898.27" y="1558.35" width="37.5" height="39.94" fill="#F98400" stroke="#333" stroke-width="1.7"/>
<line x1="898.27" y1="1567.84" x2="935.77" y2="1567.84" stroke="#333" stroke-width="4"/>
<circle cx="917.02" cy="1550.63" r="5.0"/>
<circle cx="917.02" cy="1558.57" r="5.0"/>
<circle cx="917.02" cy="1577.11" r="5.0"/>
<circle cx="917.02" cy="1594.76" r="5.0"/>
<circle cx="917.02" cy="1609.32" r="5.0"/>
<circle cx="917.02" cy="1629.18" r="5.0"/>
<line x1="966.01" y1="1533.64" x2="966.01" y2="1574.9" stroke="#333" stroke-width="1.9"/>
<line x1="966.01" y1="1605.35" x2="966.01" y2="1619.25" stroke="#333" stroke-width="1.9"/>
<rect x="947.26" y="1574.9" width="37.5" height="30.45" fill="#D8723A" stroke="#333" stroke-width="1.7"/>
<line x1="947.26" y1="1597.63" x2="984.76" y2="1597.63" stroke="#333" stroke-width="4"/>
<circle cx="966.01" cy="1533.64" r="5.0"/>
<circle cx="966.01" cy="1568.94" r="5.0"/>
<circle cx="966.01" cy="1581.08" r="5.0"/>
<circle cx="966.01" cy="1587.7" r="5.0"/>
<circle cx="966.01" cy="1597.63" r="5.0"/>
<circle cx="966.01" cy="1611.53" r="5.0"/>
<circle cx="966.01" cy="1619.25" r="5.0"/>
<rect x="545.5" y="1423.5" width="449.5" height="387" fill="none" stroke="#000" stroke-width="1.8"/>
<rect x="1030.2" y="1198.9" width="447.3" height="209.6" fill="#D9D9D9"/>
<text x="1249.5" y="0" transform="translate(0 1258) scale(1 1.044)" text-anchor="middle" font-size="55.0" class="t">Biosynthesis of</text>
<text x="1249.5" y="0" transform="translate(0 1324) scale(1 1.044)" text-anchor="middle" font-size="55.0" class="t">Other Secondary</text>
<text x="1250" y="0" transform="translate(0 1389.4) scale(1 1.044)" text-anchor="middle" font-size="55.0" class="t">Metabolites</text>
<line x1="1337.58" y1="1493.1" x2="1439.74" y2="1493.1" stroke="#000" stroke-width="1.7" stroke-linecap="round"/>
<text x="1382.59" y="1501.92" text-anchor="middle" font-size="45.0" class="t star">*</text>
<line x1="1394.73" y1="1543.41" x2="1441.06" y2="1543.41" stroke="#000" stroke-width="1.7" stroke-linecap="round"/>
<text x="1414.58" y="1551.57" text-anchor="middle" font-size="45.0" class="t star">*</text>
<line x1="1056.24" y1="1586.88" x2="1056.24" y2="1592.39" stroke="#333" stroke-width="1.9"/>
<line x1="1056.24" y1="1609.6" x2="1056.24" y2="1612.25" stroke="#333" stroke-width="1.9"/>
<rect x="1037.49" y="1592.39" width="37.5" height="17.21" fill="#5BBCD6" stroke="#333" stroke-width="1.7"/>
<line x1="1037.49" y1="1599.67" x2="1074.99" y2="1599.67" stroke="#333" stroke-width="4"/>
<circle cx="1056.24" cy="1586.88" r="5.0"/>
<circle cx="1056.24" cy="1592.39" r="5.0"/>
<circle cx="1056.24" cy="1596.8" r="5.0"/>
<circle cx="1056.24" cy="1602.32" r="5.0"/>
<circle cx="1056.24" cy="1607.4" r="5.0"/>
<circle cx="1056.24" cy="1612.25" r="5.0"/>
<circle cx="1056.24" cy="1672.27" r="5.0"/>
<line x1="1105.23" y1="1592.39" x2="1105.23" y2="1596.36" stroke="#333" stroke-width="1.9"/>
<line x1="1105.23" y1="1628.14" x2="1105.23" y2="1637.63" stroke="#333" stroke-width="1.9"/>
<rect x="1086.48" y="1596.36" width="37.5" height="31.77" fill="#FF0000" stroke="#333" stroke-width="1.7"/>
<line x1="1086.48" y1="1617.33" x2="1123.98" y2="1617.33" stroke="#333" stroke-width="4"/>
<circle cx="1105.23" cy="1536.79" r="5.0"/>
<circle cx="1105.23" cy="1592.39" r="5.0"/>
<circle cx="1105.23" cy="1608.28" r="5.0"/>
<circle cx="1105.23" cy="1625.49" r="5.0"/>
<circle cx="1105.23" cy="1628.8" r="5.0"/>
<circle cx="1105.23" cy="1637.63" r="5.0"/>
<line x1="1154.21" y1="1572.53" x2="1154.21" y2="1581.36" stroke="#333" stroke-width="1.9"/>
<line x1="1154.21" y1="1611.81" x2="1154.21" y2="1624.39" stroke="#333" stroke-width="1.9"/>
<rect x="1135.46" y="1581.36" width="37.5" height="30.45" fill="#B11020" stroke="#333" stroke-width="1.7"/>
<line x1="1135.46" y1="1603.42" x2="1172.96" y2="1603.42" stroke="#333" stroke-width="4"/>
<circle cx="1154.21" cy="1572.53" r="5.0"/>
<circle cx="1154.21" cy="1580.26" r="5.0"/>
<circle cx="1154.21" cy="1593.5" r="5.0"/>
<circle cx="1154.21" cy="1603.42" r="5.0"/>
<circle cx="1154.21" cy="1611.15" r="5.0"/>
<circle cx="1154.21" cy="1624.39" r="5.0"/>
<circle cx="1154.21" cy="1664.1" r="5.0"/>
<line x1="1203.42" y1="1581.8" x2="1203.42" y2="1589.74" stroke="#333" stroke-width="1.9"/>
<line x1="1203.42" y1="1605.63" x2="1203.42" y2="1616.66" stroke="#333" stroke-width="1.9"/>
<rect x="1184.67" y="1589.74" width="37.5" height="15.89" fill="#00A08A" stroke="#333" stroke-width="1.7"/>
<line x1="1184.67" y1="1591.73" x2="1222.17" y2="1591.73" stroke="#333" stroke-width="4"/>
<circle cx="1203.42" cy="1581.8" r="5.0"/>
<circle cx="1203.42" cy="1590.19" r="5.0"/>
<circle cx="1203.42" cy="1594.16" r="5.0"/>
<circle cx="1203.42" cy="1596.8" r="5.0"/>
<circle cx="1203.42" cy="1616.66" r="5.0"/>
<circle cx="1203.42" cy="1634.98" r="5.0"/>
<line x1="1252.4" y1="1556.43" x2="1252.4" y2="1586.88" stroke="#333" stroke-width="1.9"/>
<line x1="1252.4" y1="1607.84" x2="1252.4" y2="1634.32" stroke="#333" stroke-width="1.9"/>
<rect x="1233.65" y="1586.88" width="37.5" height="20.96" fill="#466555" stroke="#333" stroke-width="1.7"/>
<line x1="1233.65" y1="1589.08" x2="1271.15" y2="1589.08" stroke="#333" stroke-width="4"/>
<circle cx="1252.4" cy="1556.43" r="5.0"/>
<circle cx="1252.4" cy="1586.88" r="5.0"/>
<circle cx="1252.4" cy="1592.39" r="5.0"/>
<circle cx="1252.4" cy="1607.4" r="5.0"/>
<circle cx="1252.4" cy="1634.32" r="5.0"/>
<line x1="1301.39" y1="1556.43" x2="1301.39" y2="1588.42" stroke="#333" stroke-width="1.9"/>
<line x1="1301.39" y1="1614.9" x2="1301.39" y2="1638.29" stroke="#333" stroke-width="1.9"/>
<rect x="1282.64" y="1588.42" width="37.5" height="26.48" fill="#F2AD00" stroke="#333" stroke-width="1.7"/>
<line x1="1282.64" y1="1603.87" x2="1320.14" y2="1603.87" stroke="#333" stroke-width="4"/>
<circle cx="1301.39" cy="1556.43" r="5.0"/>
<circle cx="1301.39" cy="1578.49" r="5.0"/>
<circle cx="1301.39" cy="1592.83" r="5.0"/>
<circle cx="1301.39" cy="1603.87" r="5.0"/>
<circle cx="1301.39" cy="1612.25" r="5.0"/>
<circle cx="1301.39" cy="1619.97" r="5.0"/>
<circle cx="1301.39" cy="1638.29" r="5.0"/>
<line x1="1350.37" y1="1587.32" x2="1350.37" y2="1600.56" stroke="#333" stroke-width="1.9"/>
<line x1="1350.37" y1="1627.03" x2="1350.37" y2="1653.73" stroke="#333" stroke-width="1.9"/>
<rect x="1331.62" y="1600.56" width="37.5" height="26.48" fill="#CFAA08" stroke="#333" stroke-width="1.7"/>
<line x1="1331.62" y1="1614.46" x2="1369.12" y2="1614.46" stroke="#333" stroke-width="4"/>
<circle cx="1350.37" cy="1587.32" r="5.0"/>
<circle cx="1350.37" cy="1600.56" r="5.0"/>
<circle cx="1350.37" cy="1613.35" r="5.0"/>
<circle cx="1350.37" cy="1623.28" r="5.0"/>
<circle cx="1350.37" cy="1637.63" r="5.0"/>
<circle cx="1350.37" cy="1653.73" r="5.0"/>
<line x1="1399.58" y1="1596.14" x2="1399.58" y2="1602.76" stroke="#333" stroke-width="1.9"/>
<line x1="1399.58" y1="1619.97" x2="1399.58" y2="1631.01" stroke="#333" stroke-width="1.9"/>
<rect x="1380.83" y="1602.76" width="37.5" height="17.21" fill="#F98400" stroke="#333" stroke-width="1.7"/>
<line x1="1380.83" y1="1609.6" x2="1418.33" y2="1609.6" stroke="#333" stroke-width="4"/>
<circle cx="1399.58" cy="1596.14" r="5.0"/>
<circle cx="1399.58" cy="1601.22" r="5.0"/>
<circle cx="1399.58" cy="1610.04" r="5.0"/>
<circle cx="1399.58" cy="1617.11" r="5.0"/>
<circle cx="1399.58" cy="1626.59" r="5.0"/>
<circle cx="1399.58" cy="1631.01" r="5.0"/>
<line x1="1448.56" y1="1568.56" x2="1448.56" y2="1578.05" stroke="#333" stroke-width="1.9"/>
<line x1="1448.56" y1="1605.19" x2="1448.56" y2="1611.81" stroke="#333" stroke-width="1.9"/>
<rect x="1429.81" y="1578.05" width="37.5" height="27.14" fill="#D8723A" stroke="#333" stroke-width="1.7"/>
<line x1="1429.81" y1="1598.35" x2="1467.31" y2="1598.35" stroke="#333" stroke-width="4"/>
<circle cx="1448.56" cy="1568.56" r="5.0"/>
<circle cx="1448.56" cy="1574.74" r="5.0"/>
<circle cx="1448.56" cy="1581.36" r="5.0"/>
<circle cx="1448.56" cy="1598.35" r="5.0"/>
<circle cx="1448.56" cy="1611.81" r="5.0"/>
<rect x="1028.5" y="1423.5" width="448.8" height="389.8" fill="none" stroke="#000" stroke-width="1.8"/>
<line x1="82" y1="1420.3" x2="532" y2="1420.3" stroke="#e2e2e2" stroke-width="1"/>
<line x1="73.5" y1="167.7" x2="79.5" y2="167.7" stroke="#333" stroke-width="1.8"/>
<text x="68.01" y="181.69" text-anchor="end" font-size="35.2" class="t">5.0</text>
<line x1="73.5" y1="286" x2="79.5" y2="286" stroke="#333" stroke-width="1.8"/>
<text x="68.01" y="299.99" text-anchor="end" font-size="35.2" class="t">2.5</text>
<line x1="73.5" y1="405.5" x2="79.5" y2="405.5" stroke="#333" stroke-width="1.8"/>
<text x="68.01" y="419.49" text-anchor="end" font-size="35.2" class="t">0.0</text>
<line x1="73.5" y1="524.4" x2="79.5" y2="524.4" stroke="#333" stroke-width="1.8"/>
<text x="68.01" y="538.39" text-anchor="end" font-size="35.2" class="t">−2.5</text>
<line x1="78.3" y1="799.4" x2="84.5" y2="799.4" stroke="#333" stroke-width="1.8"/>
<text x="73.11" y="813.39" text-anchor="end" font-size="35.2" class="t">5.0</text>
<line x1="78.3" y1="918.3" x2="84.5" y2="918.3" stroke="#333" stroke-width="1.8"/>
<text x="73.11" y="932.29" text-anchor="end" font-size="35.2" class="t">2.5</text>
<line x1="78.3" y1="1037.4" x2="84.5" y2="1037.4" stroke="#333" stroke-width="1.8"/>
<text x="73.11" y="1051.39" text-anchor="end" font-size="35.2" class="t">0.0</text>
<line x1="78.3" y1="1156.6" x2="84.5" y2="1156.6" stroke="#333" stroke-width="1.8"/>
<text x="73.11" y="1170.59" text-anchor="end" font-size="35.2" class="t">−2.5</text>
<line x1="73.7" y1="1435.7" x2="80.5" y2="1435.7" stroke="#333" stroke-width="1.8"/>
<text x="68.41" y="1449.69" text-anchor="end" font-size="35.2" class="t">5.0</text>
<line x1="73.7" y1="1553.7" x2="80.5" y2="1553.7" stroke="#333" stroke-width="1.8"/>
<text x="68.41" y="1567.69" text-anchor="end" font-size="35.2" class="t">2.5</text>
<line x1="73.7" y1="1673.2" x2="80.5" y2="1673.2" stroke="#333" stroke-width="1.8"/>
<text x="68.41" y="1687.19" text-anchor="end" font-size="35.2" class="t">0.0</text>
<line x1="73.7" y1="1792.1" x2="80.5" y2="1792.1" stroke="#333" stroke-width="1.8"/>
<text x="68.41" y="1806.09" text-anchor="end" font-size="35.2" class="t">−2.5</text>
<text x="1597.88" y="0" transform="translate(0 453.2) scale(1 1.06)" font-size="51.8" font-weight="bold" class="t tb">Groups</text>
<rect x="1583" y="500.5" width="111.5" height="90.8" fill="#5BBCD6"/>
<text x="1717.6" y="0" transform="translate(0 568.4) scale(1 1.04)" font-size="51.2" class="t">Week 0</text>
<rect x="1583" y="608.6" width="111.5" height="88" fill="#FF0000"/>
<text x="1714.8" y="0" transform="translate(0 675) scale(1 1.04)" font-size="51.2" class="t">CTRL_08</text>
<rect x="1583" y="714.3" width="111.5" height="91.1" fill="#B11020"/>
<text x="1712.2" y="0" transform="translate(0 780.7) scale(1 1.04)" font-size="51.2" class="t">CTRL_12</text>
<rect x="1580" y="820.2" width="114.5" height="88.1" fill="#00A08A"/>
<text x="1718.6" y="0" transform="translate(0 884.2) scale(1 1.04)" font-size="51.2" class="t">ULVA_08</text>
<rect x="1583" y="931.7" width="111.5" height="90.3" fill="#466555"/>
<rect x="1583" y="931.7" width="111.5" height="2.2" fill="#2e3733"/>
<text x="1715" y="0" transform="translate(0 1001) scale(1 1.04)" font-size="51.2" class="t">ULVA_12</text>
<rect x="1583" y="1039.9" width="114" height="90.8" fill="#F2AD00"/>
<text x="1719.8" y="0" transform="translate(0 1108.4) scale(1 1.04)" font-size="51.2" class="t">ASCO_N_08</text>
<rect x="1580.2" y="1151" width="111.2" height="87.8" fill="#CFAA08"/>
<text x="1719.8" y="0" transform="translate(0 1219.7) scale(1 1.04)" font-size="51.2" class="t">ASCO_N_12</text>
<rect x="1583" y="1262.3" width="111.5" height="87.7" fill="#F98400"/>
<text x="1719.8" y="0" transform="translate(0 1328.4) scale(1 1.04)" font-size="51.2" class="t">ASCO_LG_08</text>
<rect x="1580.2" y="1368" width="111.2" height="91" fill="#D8723A"/>
<text x="1714" y="0" transform="translate(0 1432.8) scale(1 1.04)" font-size="51.2" class="t">ASCO_LG_12</text>
</svg>
</body></html>
